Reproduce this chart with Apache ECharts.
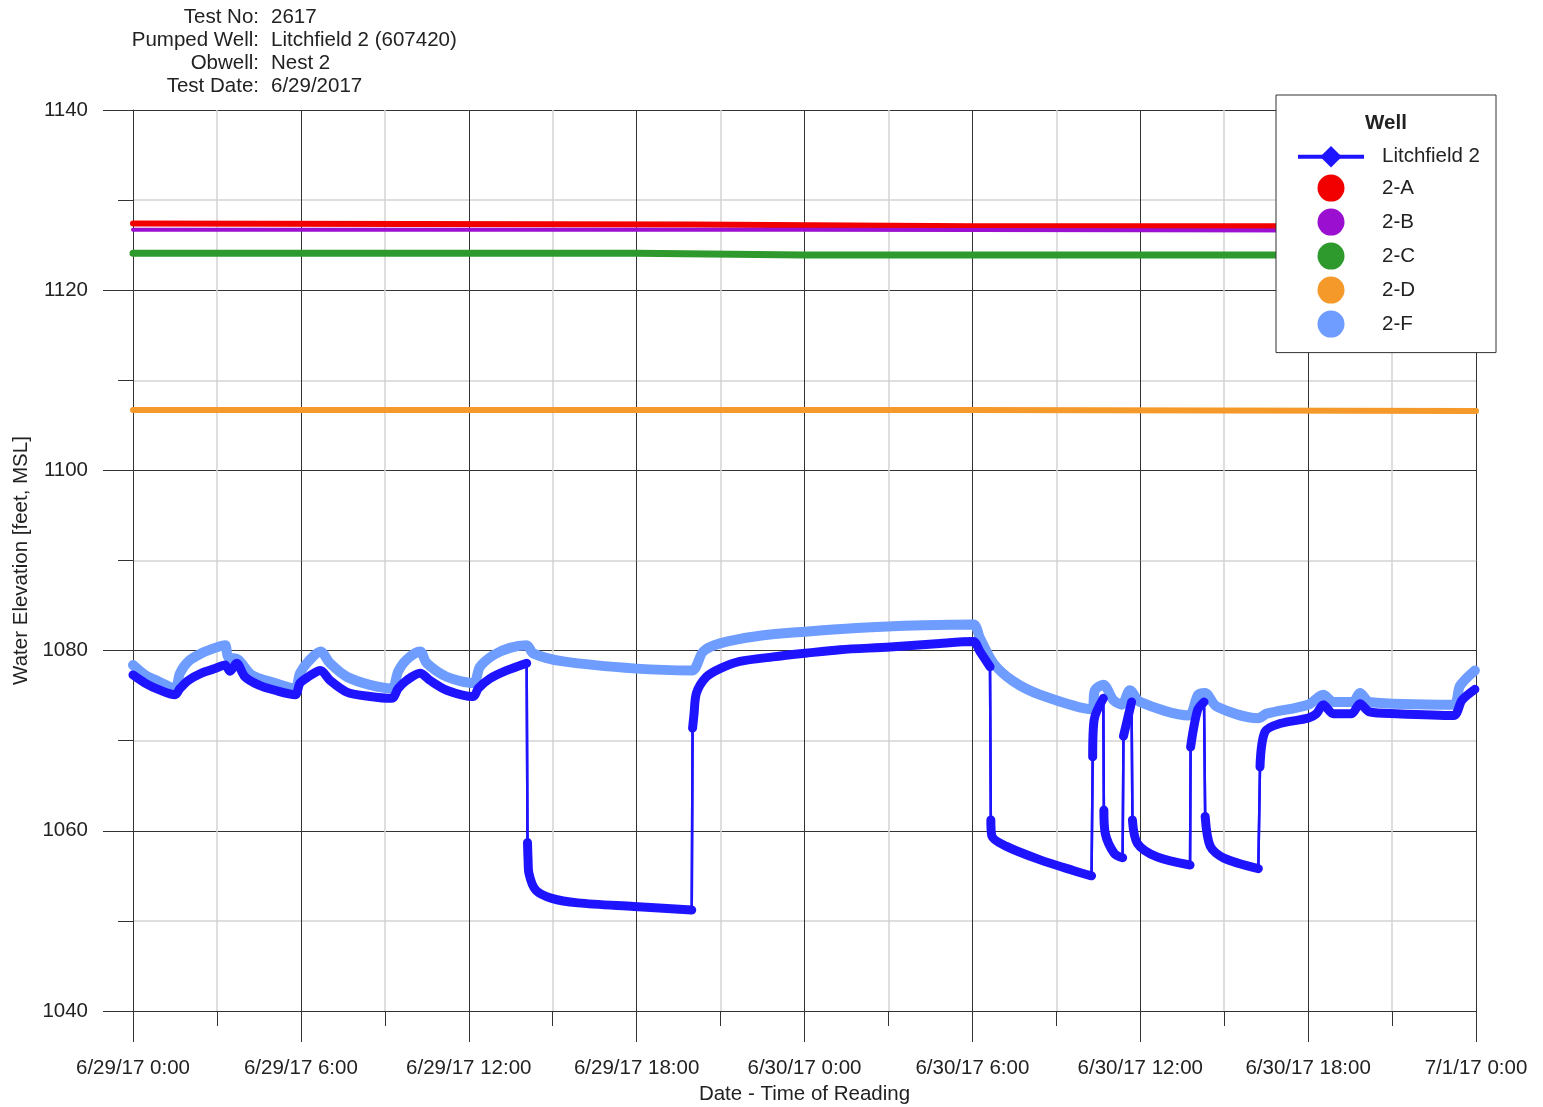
<!DOCTYPE html>
<html>
<head>
<meta charset="utf-8">
<script src="https://cdn.jsdelivr.net/npm/echarts@6/dist/echarts.min.js"></script>
<style>
html, body { margin: 0; padding: 0; background: #fff; }
#chart { width: 1543px; height: 1107px; }
</style>
</head>
<body>
<div id="chart"></div>
<script>
// hours since 6/29/17 0:00
const hoursL2 = [0.0, 0.43, 0.9, 1.5, 1.68, 1.98, 2.45, 2.93, 3.29, 3.47, 3.7, 4.0, 4.48, 5.07, 5.79,
    5.97, 6.27, 6.7, 7.04, 7.64, 8.47, 9.25, 9.48, 9.78, 10.26, 10.61, 11.21, 12.16, 12.34, 12.76, 13.36, 14.07,
    14.1, 14.12, 14.15, 14.4, 14.97, 15.9, 17.9, 19.97,
    20.0, 20.05, 20.14, 20.5, 20.98, 21.69, 22.88, 24.02, 25.27, 27.06, 28.84, 30.03, 30.27, 30.63,
    30.66, 30.7, 31.2, 32.4, 33.6, 34.26,
    34.3, 34.35, 34.68, 34.7, 34.75, 35.07, 35.37,
    35.4, 35.69, 35.72, 35.9, 36.6, 37.78,
    37.8, 38.05, 38.28, 38.32, 38.5, 38.97, 40.22,
    40.28, 40.46, 40.99, 42.0, 42.3, 42.54, 42.9, 43.55, 43.85, 44.2, 45.16, 47.2, 47.5, 47.96];
const valuesL2 = [1077.3, 1076.4, 1075.7, 1075.1, 1075.8, 1076.7, 1077.5, 1078.0, 1078.4, 1077.7, 1078.6, 1077.1, 1076.2, 1075.6, 1075.1,
    1076.4, 1077.1, 1077.8, 1076.7, 1075.4, 1074.9, 1074.7, 1075.8, 1076.7, 1077.5, 1076.7, 1075.6, 1074.9, 1075.8, 1076.9, 1077.8, 1078.6,
    1058.7, 1056.8, 1055.3, 1053.4, 1052.5, 1052.0, 1051.6, 1051.2,
    1071.4, 1072.9, 1075.3, 1077.1, 1078.0, 1078.8, 1079.3, 1079.7, 1080.1, 1080.4, 1080.8, 1081.0, 1079.9, 1078.2,
    1061.2, 1059.4, 1058.3, 1056.8, 1055.6, 1055.0,
    1068.2, 1072.3, 1074.7, 1062.3, 1059.7, 1057.5, 1057.0,
    1070.5, 1074.3, 1061.2, 1058.6, 1057.1, 1056.2,
    1069.3, 1073.4, 1074.3, 1061.6, 1058.3, 1057.0, 1055.8,
    1067.1, 1071.0, 1071.9, 1072.5, 1073.0, 1074.0, 1073.0, 1073.0, 1074.1, 1073.2, 1073.0, 1072.8, 1074.5, 1075.7];

const hours2F = [0.0, 0.43, 0.9, 1.5, 1.68, 1.98, 2.45, 2.93, 3.29, 3.4, 3.76, 4.24, 5.07, 5.79,
    5.97, 6.27, 6.7, 7.04, 7.64, 8.47, 9.25, 9.48, 9.78, 10.26, 10.5, 11.21, 12.16, 12.4, 12.88, 13.47, 14.07,
    14.3, 15.38, 18.0, 19.97, 20.38, 20.98, 22.29, 24.02, 25.86, 28.24, 30.03,
    30.27, 30.75, 31.46, 32.42, 34.26, 34.38, 34.68, 35.04, 35.34, 35.63, 35.99, 37.72, 38.07, 38.31,
    38.73, 40.22, 40.52, 42.0, 42.54, 42.9, 43.6, 43.85, 44.2, 47.19, 47.43, 47.96];
const values2F = [1078.4, 1077.3, 1076.6, 1075.8, 1077.5, 1078.8, 1079.7, 1080.3, 1080.6, 1079.3, 1079.0, 1077.3, 1076.4, 1075.8,
    1077.5, 1078.8, 1079.9, 1078.6, 1077.1, 1076.2, 1075.8, 1077.7, 1079.0, 1079.9, 1078.6, 1077.1, 1076.4, 1078.2, 1079.5, 1080.3, 1080.6,
    1079.7, 1078.8, 1078.0, 1077.8, 1079.9, 1080.8, 1081.6, 1082.1, 1082.5, 1082.8, 1082.9,
    1081.4, 1078.6, 1076.6, 1075.1, 1073.5, 1075.6, 1076.2, 1074.5, 1074.0, 1075.6, 1074.3, 1072.8, 1075.1, 1075.3,
    1073.8, 1072.5, 1073.0, 1074.0, 1075.1, 1074.3, 1074.3, 1075.3, 1074.3, 1074.0, 1076.1, 1077.8];

const hours2A = [0, 20, 30, 48];
const values2A = [1127.4, 1127.3, 1127.1, 1127.1];
const hours2B = [0, 24, 48];
const values2B = [1126.7, 1126.7, 1126.6];
const hours2C = [0, 18, 24, 48];
const values2C = [1124.1, 1124.1, 1123.9, 1123.9];
const hours2D = [0, 30, 48];
const values2D = [1106.7, 1106.7, 1106.6];

const headerLabels = ['Test No:', 'Pumped Well:', 'Obwell:', 'Test Date:'];
const headerValues = ['2617', 'Litchfield 2 (607420)', 'Nest 2', '6/29/2017'];

const FONT = 'Liberation Sans, Arial, sans-serif';
const FS = 20.5;
const pairs = (xs, ys) => xs.map((x, i) => [x, ys[i]]);

// thick part of Litchfield 2: break the line at the big jumps
const thickL2 = [];
hoursL2.forEach((h, i) => {
    if (i > 0 && Math.abs(valuesL2[i] - valuesL2[i - 1]) > 4.5) thickL2.push([h, '-']);
    thickL2.push([h, valuesL2[i]]);
});

function hourLabel(h) {
    const day = Math.floor(h / 24);
    const hh = h % 24;
    const date = ['6/29/17', '6/30/17', '7/1/17'][day];
    return date + ' ' + hh + ':00';
}

function flat(name, xs, ys, color, width) {
    return { name, type: 'line', data: pairs(xs, ys), showSymbol: false, silent: true,
        lineStyle: { color, width, cap: 'round', join: 'round' }, itemStyle: { color } };
}

const chart = echarts.init(document.getElementById('chart'));
const graphics = [];
headerLabels.forEach((t, i) => {
    graphics.push({ type: 'text', x: 259, y: 17 + i * 23, style: { text: t, font: FS + 'px ' + FONT, fill: '#222', align: 'right', verticalAlign: 'middle' } });
    graphics.push({ type: 'text', x: 271, y: 17 + i * 23, style: { text: headerValues[i], font: FS + 'px ' + FONT, fill: '#222', align: 'left', verticalAlign: 'middle' } });
});
graphics.push({ type: 'text', x: 1386, y: 123, z: 100, style: { text: 'Well', font: 'bold ' + FS + 'px ' + FONT, fill: '#222', align: 'center', verticalAlign: 'middle' } });

const option = {
    animation: false,
    textStyle: { fontFamily: FONT },
    grid: { left: 133, top: 110, right: 67, bottom: 96, containLabel: false, outerBoundsMode: 'none' },
    xAxis: {
        type: 'value', min: 0, max: 48, interval: 6,
        name: 'Date - Time of Reading', nameLocation: 'middle', nameGap: 71,
        nameTextStyle: { fontSize: FS, color: '#222' },
        axisLine: { show: true, lineStyle: { color: '#333', width: 1 } },
        axisTick: { show: true, length: 31, lineStyle: { color: '#333' } },
        minorTick: { show: true, splitNumber: 2, length: 15, lineStyle: { color: '#333' } },
        splitLine: { show: true, lineStyle: { color: '#333', width: 1 } },
        minorSplitLine: { show: true, lineStyle: { color: '#d4d4d4', width: 1.5 } },
        axisLabel: { fontSize: FS, color: '#222', margin: 47, formatter: hourLabel, showMaxLabel: true }
    },
    yAxis: {
        type: 'value', min: 1040, max: 1140, interval: 20,
        name: 'Water Elevation [feet, MSL]', nameLocation: 'middle', nameGap: 100,
        nameTextStyle: { fontSize: FS, color: '#222' },
        axisLine: { show: true, lineStyle: { color: '#333', width: 1 } },
        axisTick: { show: true, length: 30, lineStyle: { color: '#333' } },
        minorTick: { show: true, splitNumber: 2, length: 15, lineStyle: { color: '#333' } },
        splitLine: { show: true, lineStyle: { color: '#333', width: 1 } },
        minorSplitLine: { show: true, lineStyle: { color: '#d4d4d4', width: 1.5 } },
        axisLabel: { fontSize: FS, color: '#222', margin: 45, formatter: v => String(v) }
    },
    legend: {
        orient: 'vertical', left: 1276, top: 95,
        padding: [51, 16, 15, 20],
        itemWidth: 66, itemHeight: 27, itemGap: 7,
        backgroundColor: '#fff', borderColor: '#333', borderWidth: 1,
        selectedMode: false,
        textStyle: { fontSize: FS, color: '#222', padding: [0, 0, 0, 13] },
        data: [
            { name: 'Litchfield 2', lineStyle: { width: 4 } },
            { name: '2-A', icon: 'circle' },
            { name: '2-B', icon: 'circle' },
            { name: '2-C', icon: 'circle' },
            { name: '2-D', icon: 'circle' },
            { name: '2-F', icon: 'circle' }
        ]
    },
    graphic: graphics,
    series: [
        {
            name: 'Litchfield 2', type: 'line', data: pairs(hoursL2, valuesL2),
            symbol: 'diamond', symbolSize: 7, showSymbol: true, showAllSymbol: true, silent: true,
            lineStyle: { color: '#1f14ff', width: 2.5 }, itemStyle: { color: '#1f14ff' }
        },
        flat('2-A', hours2A, values2A, '#f20000', 6),
        flat('2-B', hours2B, values2B, '#9a0fd0', 4),
        flat('2-C', hours2C, values2C, '#2e9a2e', 7),
        flat('2-D', hours2D, values2D, '#f59a2a', 6),
        Object.assign(flat('2-F', hours2F, values2F, '#6e9cff', 10), { smooth: 0.3 }),
        {
            name: 'Litchfield 2', type: 'line', data: thickL2, showSymbol: false, silent: true, connectNulls: false,
            smooth: 0.3,
            lineStyle: { color: '#1f14ff', width: 9, cap: 'round', join: 'round' }, itemStyle: { color: '#1f14ff' }, z: 3
        },
        {
            name: 'Litchfield 2', type: 'line', data: pairs(hoursL2, valuesL2),
            symbol: 'diamond', symbolSize: 7, showSymbol: true, showAllSymbol: true, silent: true,
            lineStyle: { color: '#1f14ff', width: 2.5 }, itemStyle: { color: '#1f14ff' }, z: 3
        }
    ]
};
chart.setOption(option);
</script>
</body>
</html>
